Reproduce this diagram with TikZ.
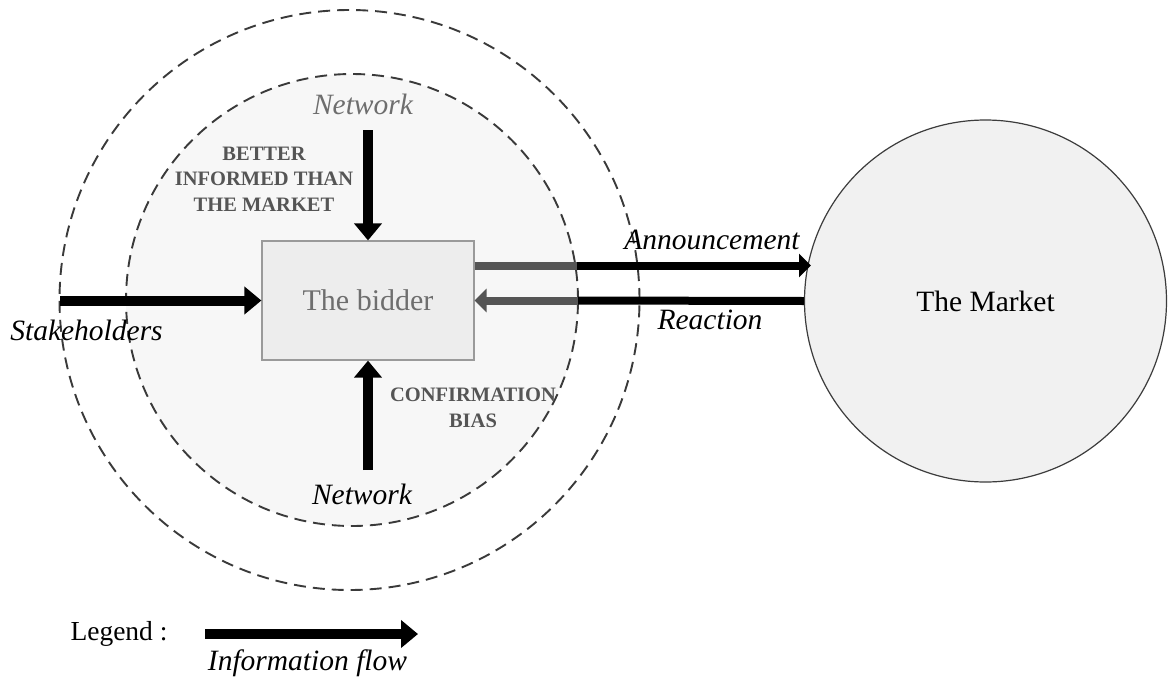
\documentclass[tikz,border=0pt]{standalone}
\usepackage{fontspec}
\setmainfont{Liberation Serif}
\usetikzlibrary{arrows.meta,calc}
\definecolor{dashgray}{HTML}{3A3A3A}
\definecolor{innerfill}{HTML}{F7F7F7}
\definecolor{boxfill}{HTML}{EDEDED}
\definecolor{boxborder}{HTML}{9A9A9A}
\definecolor{marketfill}{HTML}{F1F1F1}
\definecolor{marketborder}{HTML}{3C3C3C}
\definecolor{lighttext}{HTML}{6E6E6E}
\definecolor{boldtext}{HTML}{555555}
\definecolor{grayflow}{HTML}{555555}
\begin{document}
\begin{tikzpicture}[x=1pt,y=-1pt,
  dashcircle/.style={circle,draw=dashgray,line width=1.9pt,dash pattern=on 12pt off 7pt,inner sep=0pt},
  flow/.style={line width=10pt,-{Triangle[length=17pt,width=27pt]}},
  flowthin/.style={line width=8pt,-{Triangle[length=12pt,width=23pt]}},
  bar/.style={line width=8pt},
  itlabel/.style={font=\fontsize{29.5}{33}\selectfont\itshape,inner sep=0pt},
  uplabel/.style={font=\fontsize{29.5}{33}\selectfont,inner sep=0pt},
  capslabel/.style={font=\fontsize{20.5}{25.5}\selectfont\bfseries,text=boldtext,align=center,inner sep=0pt}]
\useasboundingbox (0,0) rectangle (1168,683);
\fill[white] (0,0) rectangle (1168,683);

% circles
\node[dashcircle,minimum size=580pt] (outer) at (349.5,300) {};
\node[dashcircle,fill=innerfill,minimum size=452pt] (inner) at (352,300) {};
\node[draw=boxborder,fill=boxfill,line width=1.2pt,minimum width=212pt,minimum height=119pt,inner sep=0pt,
      uplabel,font=\fontsize{30}{33}\selectfont,text=lighttext] (bidder) at (368,300.5) {The bidder};
\node[circle,draw=marketborder,fill=marketfill,line width=1.2pt,minimum size=362pt,inner sep=0pt,
      uplabel] (market) at (985.5,301) {The Market};

% coordinates
\coordinate (stk) at (60,300.5);
\coordinate (ntop) at (368,130);
\coordinate (nbot) at (368,470);
\coordinate (annS) at ([yshift=35pt]bidder.east);
\coordinate (annM) at (577,265.5);
\coordinate (annE) at (811,265.5);
\coordinate (reaM) at (578,300.5);
\coordinate (legS) at (205,634);
\coordinate (legE) at (418,634);

% arrows
\draw[flow] (stk) -- (bidder.west);
\draw[flow] (ntop) -- (bidder.north);
\draw[flow] (nbot) -- (bidder.south);
\draw[flowthin,black] (annM) -- (annE);
\draw[bar,grayflow] (annS) -- (annM);
\draw[bar,black] (market.west) -- (reaM);
\draw[flowthin,grayflow] (reaM) -- (bidder.east);
\draw[flow] (legS) -- (legE);

% labels
\node[itlabel,text=lighttext] (nettop) at (363,104) {Network};
\node[itlabel] (netbot) at (362,494) {Network};
\node[capslabel] (better) at (264,179) {BETTER\\INFORMED THAN\\THE MARKET};
\node[capslabel] (confirm) at (473,408) {CONFIRMATION\\BIAS};
\node[itlabel] (stake) at (86.5,330) {Stakeholders};
\node[itlabel] (ann) at (712,240) {Announcement};
\node[itlabel] (rea) at (710,320) {Reaction};
\node[uplabel,font=\fontsize{27.5}{33}\selectfont] (legend) at (119,634) {Legend :};
\node[itlabel] (info) at (307.5,663) {Information flow};
\end{tikzpicture}
\end{document}
